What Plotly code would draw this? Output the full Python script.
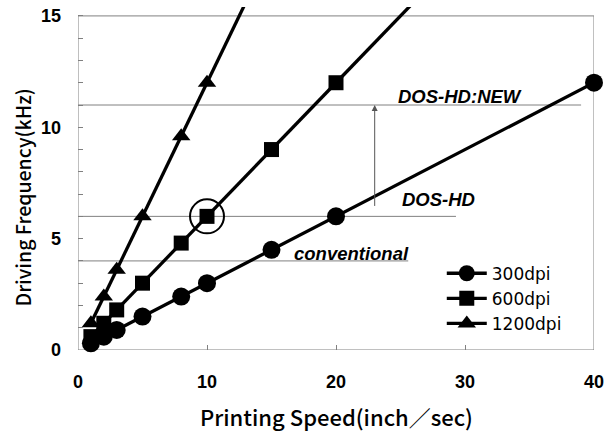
import plotly.graph_objects as go

# ---- data ----
speed_300 = [1, 2, 3, 5, 8, 10, 15, 20, 40]
freq_300 = [0.3, 0.6, 0.9, 1.5, 2.4, 3.0, 4.5, 6.0, 12.0]
speed_600 = [1, 2, 3, 5, 8, 10, 15, 20]
freq_600 = [0.6, 1.2, 1.8, 3.0, 4.8, 6.0, 9.0, 12.0]
speed_1200 = [1, 2, 3, 5, 8, 10]
freq_1200 = [1.2, 2.4, 3.6, 6.0, 9.6, 12.0]
# line continuation beyond the last marker (runs off the top of the plot)
ext_600 = ([20, 30], [12.0, 18.0])
ext_1200 = ([10, 15], [12.0, 18.0])
series_names = ["300dpi", "600dpi", "1200dpi"]
x_ticks = [0, 10, 20, 30, 40]
y_ticks = [0, 5, 10, 15]
levels = [4, 6, 11]          # conventional, DOS-HD, DOS-HD:NEW
level_ends = [25.6, 29.3, 39.0]
level_labels = ["conventional", "DOS-HD", "DOS-HD:NEW"]
label_pos = [(21.2, 4.35), (27.95, 6.76), (29.6, 11.4)]

JP = "Noto Sans CJK JP"
fig = go.Figure()

for sx, sy in [ext_600, ext_1200]:
    fig.add_trace(go.Scatter(x=sx, y=sy, mode="lines", showlegend=False,
                             line=dict(color="black", width=3.3), hoverinfo="skip"))

for xs, ys, name, sym, size in [
    (speed_300, freq_300, series_names[0], "circle", 18),
    (speed_600, freq_600, series_names[1], "square", 15),
    (speed_1200, freq_1200, series_names[2], "triangle-up", 16),
]:
    fig.add_trace(go.Scatter(x=xs, y=ys, mode="lines+markers", name=name,
                             line=dict(color="black", width=3.3),
                             marker=dict(symbol=sym, size=size, color="black"),
                             cliponaxis=False))

shapes = []
for lv, le in zip(levels, level_ends):
    shapes.append(dict(type="line", xref="x", yref="y", x0=0, x1=le, y0=lv, y1=lv,
                       line=dict(color="#808080", width=1), layer="below"))
# plot frame
shapes.append(dict(type="rect", xref="x", yref="y", x0=0, x1=40, y0=0, y1=15,
                   line=dict(color="#808080", width=1), layer="below"))
# circle highlighting the 600dpi point at 10 inch/sec
shapes.append(dict(type="circle", xref="x", yref="y", xsizemode="pixel", ysizemode="pixel",
                   xanchor=10, yanchor=6, x0=-17, x1=17, y0=-17, y1=17,
                   line=dict(color="black", width=2)))

annotations = []
for txt, (tx, ty) in zip(level_labels, label_pos):
    annotations.append(dict(x=tx, y=ty, xref="x", yref="y", text="<b><i>" + txt + "</i></b>",
                            showarrow=False,
                            font=dict(family="Liberation Sans", size=18.5, color="black")))
annotations.append(dict(x=23, y=11, ax=23, ay=6.4, xref="x", yref="y", axref="x", ayref="y",
                        text="", showarrow=True, arrowhead=2, arrowsize=1.2, arrowwidth=1,
                        arrowcolor="#555555"))
annotations.append(dict(x=0.5, y=0, xref="paper", yref="paper", xanchor="center", yanchor="middle",
                        xshift=0, yshift=-66, text="Printing Speed(inch／sec)", showarrow=False,
                        font=dict(family=JP, size=22, color="black", weight=500)))
annotations.append(dict(x=0, y=0.5, xref="paper", yref="paper", xanchor="center", yanchor="middle",
                        xshift=-56, yshift=-19, text="Driving Frequency(kHz)", showarrow=False,
                        textangle=-90, font=dict(family=JP, size=19.5, color="black", weight=500)))

fig.update_layout(
    width=610, height=432,
    margin=dict(l=78, r=14, t=6, b=82),
    paper_bgcolor="white", plot_bgcolor="white",
    showlegend=True,
    legend=dict(x=0.705, y=0.275, xanchor="left", yanchor="top",
                bgcolor="rgba(0,0,0,0)", font=dict(family="DejaVu Sans", size=17, color="black"),
                tracegroupgap=0, itemwidth=40),
    shapes=shapes, annotations=annotations,
    xaxis=dict(range=[0, 40], tickvals=x_ticks, ticks="inside", ticklen=5,
               tickcolor="#808080", showgrid=False, zeroline=False, showline=False,
               ticklabelstandoff=19,
               tickfont=dict(family="Liberation Sans", size=18, color="black", weight="bold")),
    yaxis=dict(range=[0, 15.4], tickvals=y_ticks, ticks="inside", ticklen=5,
               tickcolor="#808080", showgrid=False, zeroline=False, showline=False,
               ticklabelstandoff=16,
               minor=dict(dtick=1, ticks="inside", ticklen=5, tickcolor="#808080", showgrid=False),
               tickfont=dict(family="Liberation Sans", size=18, color="black", weight="bold")),
)

fig.write_html("out.html")
